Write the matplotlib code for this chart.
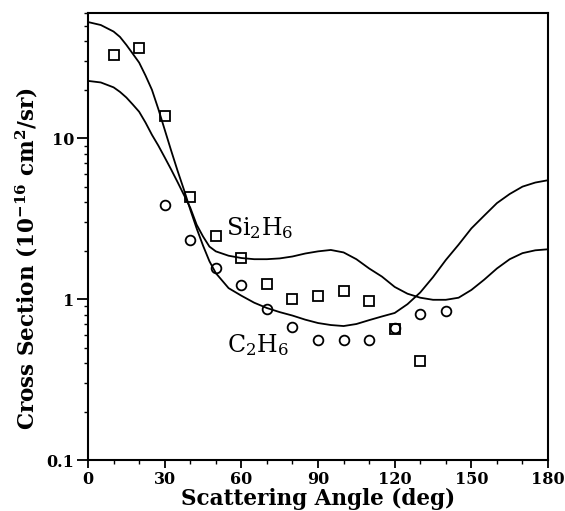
import matplotlib
matplotlib.use('Agg')
import matplotlib.pyplot as plt
from matplotlib.ticker import LogLocator, MultipleLocator, FixedLocator, NullFormatter

plt.rcParams['mathtext.fontset'] = 'dejavuserif'

# measured points (squares = Si2H6, circles = C2H6)
si_angle = [10, 20, 30, 40, 50, 60, 70, 80, 90, 100, 110, 120, 130]
si_xs = [32.8, 36.3, 13.7, 4.3, 2.46, 1.80, 1.24, 1.00, 1.05, 1.12, 0.97, 0.65, 0.41]
c_angle = [30, 40, 50, 60, 70, 80, 90, 100, 110, 120, 130, 140]
c_xs = [3.84, 2.32, 1.56, 1.22, 0.87, 0.67, 0.556, 0.556, 0.56, 0.66, 0.81, 0.84]

# theory curves (finer steps where they drop fast)
fit_angle = [0, 5, 10, 12.5, 15, 17.5, 20, 22.5, 25, 27.5, 30, 32.5, 35, 37.5,
             40, 42.5, 45, 47.5, 50, 55, 60, 65, 70, 75, 80, 85, 90, 95, 100,
             105, 110, 115, 120, 125, 130, 135, 140, 145, 150, 155, 160, 165,
             170, 175, 180]
si_fit = [22.7, 22.2, 20.7, 19.4, 17.9, 16.2, 14.6, 12.5, 10.5, 9.0,
          7.6, 6.4, 5.35, 4.45, 3.7, 2.9, 2.45, 2.12, 1.98, 1.86,
          1.80, 1.77, 1.77, 1.79, 1.84, 1.92, 1.98, 2.02, 1.95,
          1.77, 1.55, 1.38, 1.19, 1.08, 1.02, 0.99, 0.99, 1.02,
          1.14, 1.32, 1.55, 1.77, 1.93, 2.01, 2.04]
c_fit = [52.7, 50.5, 46.0, 42.6, 38.0, 33.5, 29.5, 24.5, 20.0, 15.2,
         11.3, 8.4, 6.3, 4.8, 3.6, 2.75, 2.15, 1.72, 1.45, 1.17,
         1.05, 0.95, 0.88, 0.83, 0.79, 0.745, 0.71, 0.69, 0.68,
         0.70, 0.74, 0.78, 0.82, 0.93, 1.10, 1.37, 1.75, 2.18,
         2.75, 3.30, 3.95, 4.50, 5.00, 5.30, 5.48]

fig = plt.figure(figsize=(5.65, 5.11), dpi=100)
ax = fig.add_axes([0.1558, 0.0998, 0.970 - 0.1558, 0.9746 - 0.0998])

ax.plot(fit_angle, si_fit, color='black', lw=1.3)
ax.plot(fit_angle, c_fit, color='black', lw=1.3)
ax.plot(si_angle, si_xs, 's', ms=6.5, mfc='none', mec='black', mew=1.3)
ax.plot(c_angle, c_xs, 'o', ms=7, mfc='none', mec='black', mew=1.3)

ax.set_yscale('log')
ax.set_xlim(0, 180)
ax.set_ylim(0.1, 60)

ax.xaxis.set_major_locator(MultipleLocator(30))
ax.xaxis.set_minor_locator(MultipleLocator(10))
ax.yaxis.set_major_locator(FixedLocator([0.1, 1, 10]))
ax.yaxis.set_major_formatter(plt.FixedFormatter(['0.1', '1', '10']))
ax.yaxis.set_minor_locator(LogLocator(base=10, subs=range(2, 10)))
ax.yaxis.set_minor_formatter(NullFormatter())

for lab in ax.get_xticklabels() + ax.get_yticklabels():
    lab.set_fontfamily('DejaVu Serif')
    lab.set_fontweight('bold')
    lab.set_fontsize(11.5)

ax.tick_params(which='major', direction='out', width=1.3, length=6, pad=2)
ax.tick_params(which='minor', direction='out', width=1.0, length=3)
ax.tick_params(axis='y', which='major', length=8)
for s in ax.spines.values():
    s.set_linewidth(1.5)

ax.set_xlabel('Scattering Angle (deg)', fontfamily='DejaVu Serif',
              fontweight='bold', fontsize=15.5, labelpad=0)
ax.set_ylabel('Cross Section (10$^{\\mathbf{-16}}$ cm$^{\\mathbf{2}}$/sr)',
              fontfamily='DejaVu Serif', fontweight='bold', fontsize=15.5)
ax.yaxis.set_label_coords(-0.105, 0.45)

ax.text(54, 2.75, 'Si$_2$H$_6$', fontsize=17, family='DejaVu Serif',
        va='center', ha='left')
ax.text(54.5, 0.52, 'C$_2$H$_6$', fontsize=17, family='DejaVu Serif',
        va='center', ha='left')

fig.savefig('out.png', dpi=100)
